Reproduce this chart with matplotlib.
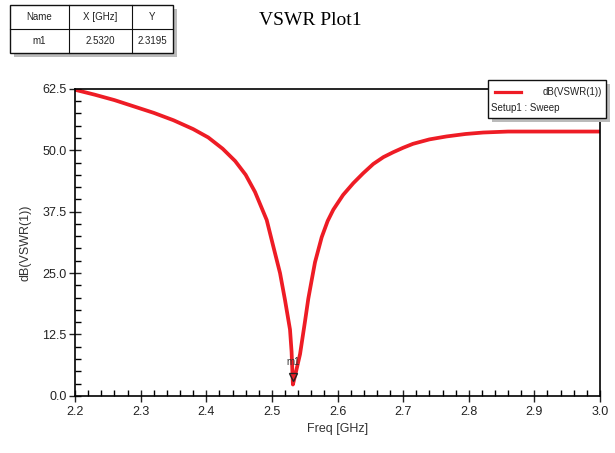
import matplotlib.pyplot as plt
from matplotlib.patches import Rectangle
from matplotlib.lines import Line2D
from matplotlib.ticker import MultipleLocator

# values
freq = [2.200, 2.230, 2.260, 2.290, 2.320, 2.350, 2.380, 2.403, 2.425, 2.444,
        2.460, 2.4743, 2.4921, 2.5022, 2.5124, 2.520, 2.5276, 2.5300, 2.532, 2.536,
        2.5429, 2.5505, 2.5555, 2.5607, 2.5657, 2.5759, 2.5850, 2.5936, 2.6085, 2.6241,
        2.639, 2.6545, 2.670, 2.685, 2.700, 2.715, 2.740, 2.766, 2.795, 2.822,
        2.860, 2.930, 3.000]
vswr_db = [62.3, 61.3, 60.2, 58.9, 57.6, 56.1, 54.3, 52.6, 50.3, 47.8,
           45.0, 41.5, 35.8, 30.4, 25.0, 19.5, 13.5, 9.0, 2.32, 4.5,
           8.5, 15.2, 19.8, 23.6, 27.2, 32.3, 35.6, 37.9, 40.9, 43.3,
           45.3, 47.2, 48.6, 49.6, 50.5, 51.3, 52.2, 52.8, 53.3, 53.6,
           53.8, 53.8, 53.8]
m1_x = 2.5320
m1_y = 2.3195

plt.rcParams['font.family'] = ['Liberation Sans', 'DejaVu Sans']

fig = plt.figure(figsize=(6.15, 4.53), dpi=100)
ax = fig.add_axes([0.122, 0.126, 0.8536, 0.678])

ax.plot(freq, vswr_db, color='#ee1c25', lw=2.7, solid_joinstyle='round')
ax.plot([m1_x], [m1_y + 1.5], marker='v', ms=6, mfc='none', mec='#222222', mew=1.0)
ax.text(m1_x, m1_y + 3.6, 'm1', ha='center', va='bottom', fontsize=7, color='#333333')

ax.set_xlim(2.2, 3.0)
ax.set_ylim(0, 62.5)
ax.xaxis.set_major_locator(MultipleLocator(0.1))
ax.xaxis.set_minor_locator(MultipleLocator(0.02))
ax.yaxis.set_major_locator(MultipleLocator(12.5))
ax.yaxis.set_minor_locator(MultipleLocator(2.5))
ax.xaxis.set_major_formatter(plt.FormatStrFormatter('%.1f'))
ax.yaxis.set_major_formatter(plt.FormatStrFormatter('%.1f'))
ax.tick_params(which='major', direction='inout', length=8, width=1, labelsize=9, colors='#222222')
ax.tick_params(which='minor', direction='in', length=4, width=1)
ax.tick_params(axis='y', which='major', pad=2)
for s in ax.spines.values():
    s.set_linewidth(1.2)
ax.set_xlabel('Freq [GHz]', fontsize=9, color='#333333', labelpad=3)
ax.set_ylabel('dB(VSWR(1))', fontsize=9, color='#333333', labelpad=8)

fig.text(0.505, 0.955, 'VSWR Plot1', ha='center', va='center', fontsize=14,
         family=['Liberation Serif', 'DejaVu Serif'])

W, H = 615.0, 453.0


def box(x0, y0, x1, y1, **kw):
    # pixel coords from top-left
    r = Rectangle((x0 / W, 1 - y1 / H), (x1 - x0) / W, (y1 - y0) / H,
                  transform=fig.transFigure, **kw)
    fig.add_artist(r)


# marker table
box(14, 9, 177, 57, fc='#bbbbbb', ec='none')
box(10, 5, 173, 53, fc='white', ec='#111111', lw=1.0)
for xv in [69, 132]:
    fig.add_artist(Line2D([xv / W] * 2, [1 - 5 / H, 1 - 53 / H], transform=fig.transFigure, color='#111111', lw=0.8))
fig.add_artist(Line2D([10 / W, 173 / W], [1 - 29 / H] * 2, transform=fig.transFigure, color='#111111', lw=0.8))
cols = [39.5, 100.5, 152.5]
for cx, t in zip(cols, ['Name', 'X [GHz]', 'Y']):
    fig.text(cx / W, 1 - 17 / H, t, ha='center', va='center', fontsize=7, color='#222222')
for cx, t in zip(cols, ['m1', '%.4f' % m1_x, '%.4f' % m1_y]):
    fig.text(cx / W, 1 - 41 / H, t, ha='center', va='center', fontsize=7, color='#222222')

# legend box
box(492, 84, 610, 122, fc='#bbbbbb', ec='none')
box(488, 80, 606, 118, fc='white', ec='#111111', lw=1.0)
fig.add_artist(Line2D([495 / W, 521 / W], [1 - 92 / H] * 2, transform=fig.transFigure, color='#ee1c25', lw=2.3))
fig.text(602 / W, 1 - 92 / H, 'dB(VSWR(1))', ha='right', va='center', fontsize=7, color='#222222')
fig.text(491 / W, 1 - 108 / H, 'Setup1 : Sweep', ha='left', va='center', fontsize=7, color='#222222')

fig.savefig('out.png', dpi=100)
